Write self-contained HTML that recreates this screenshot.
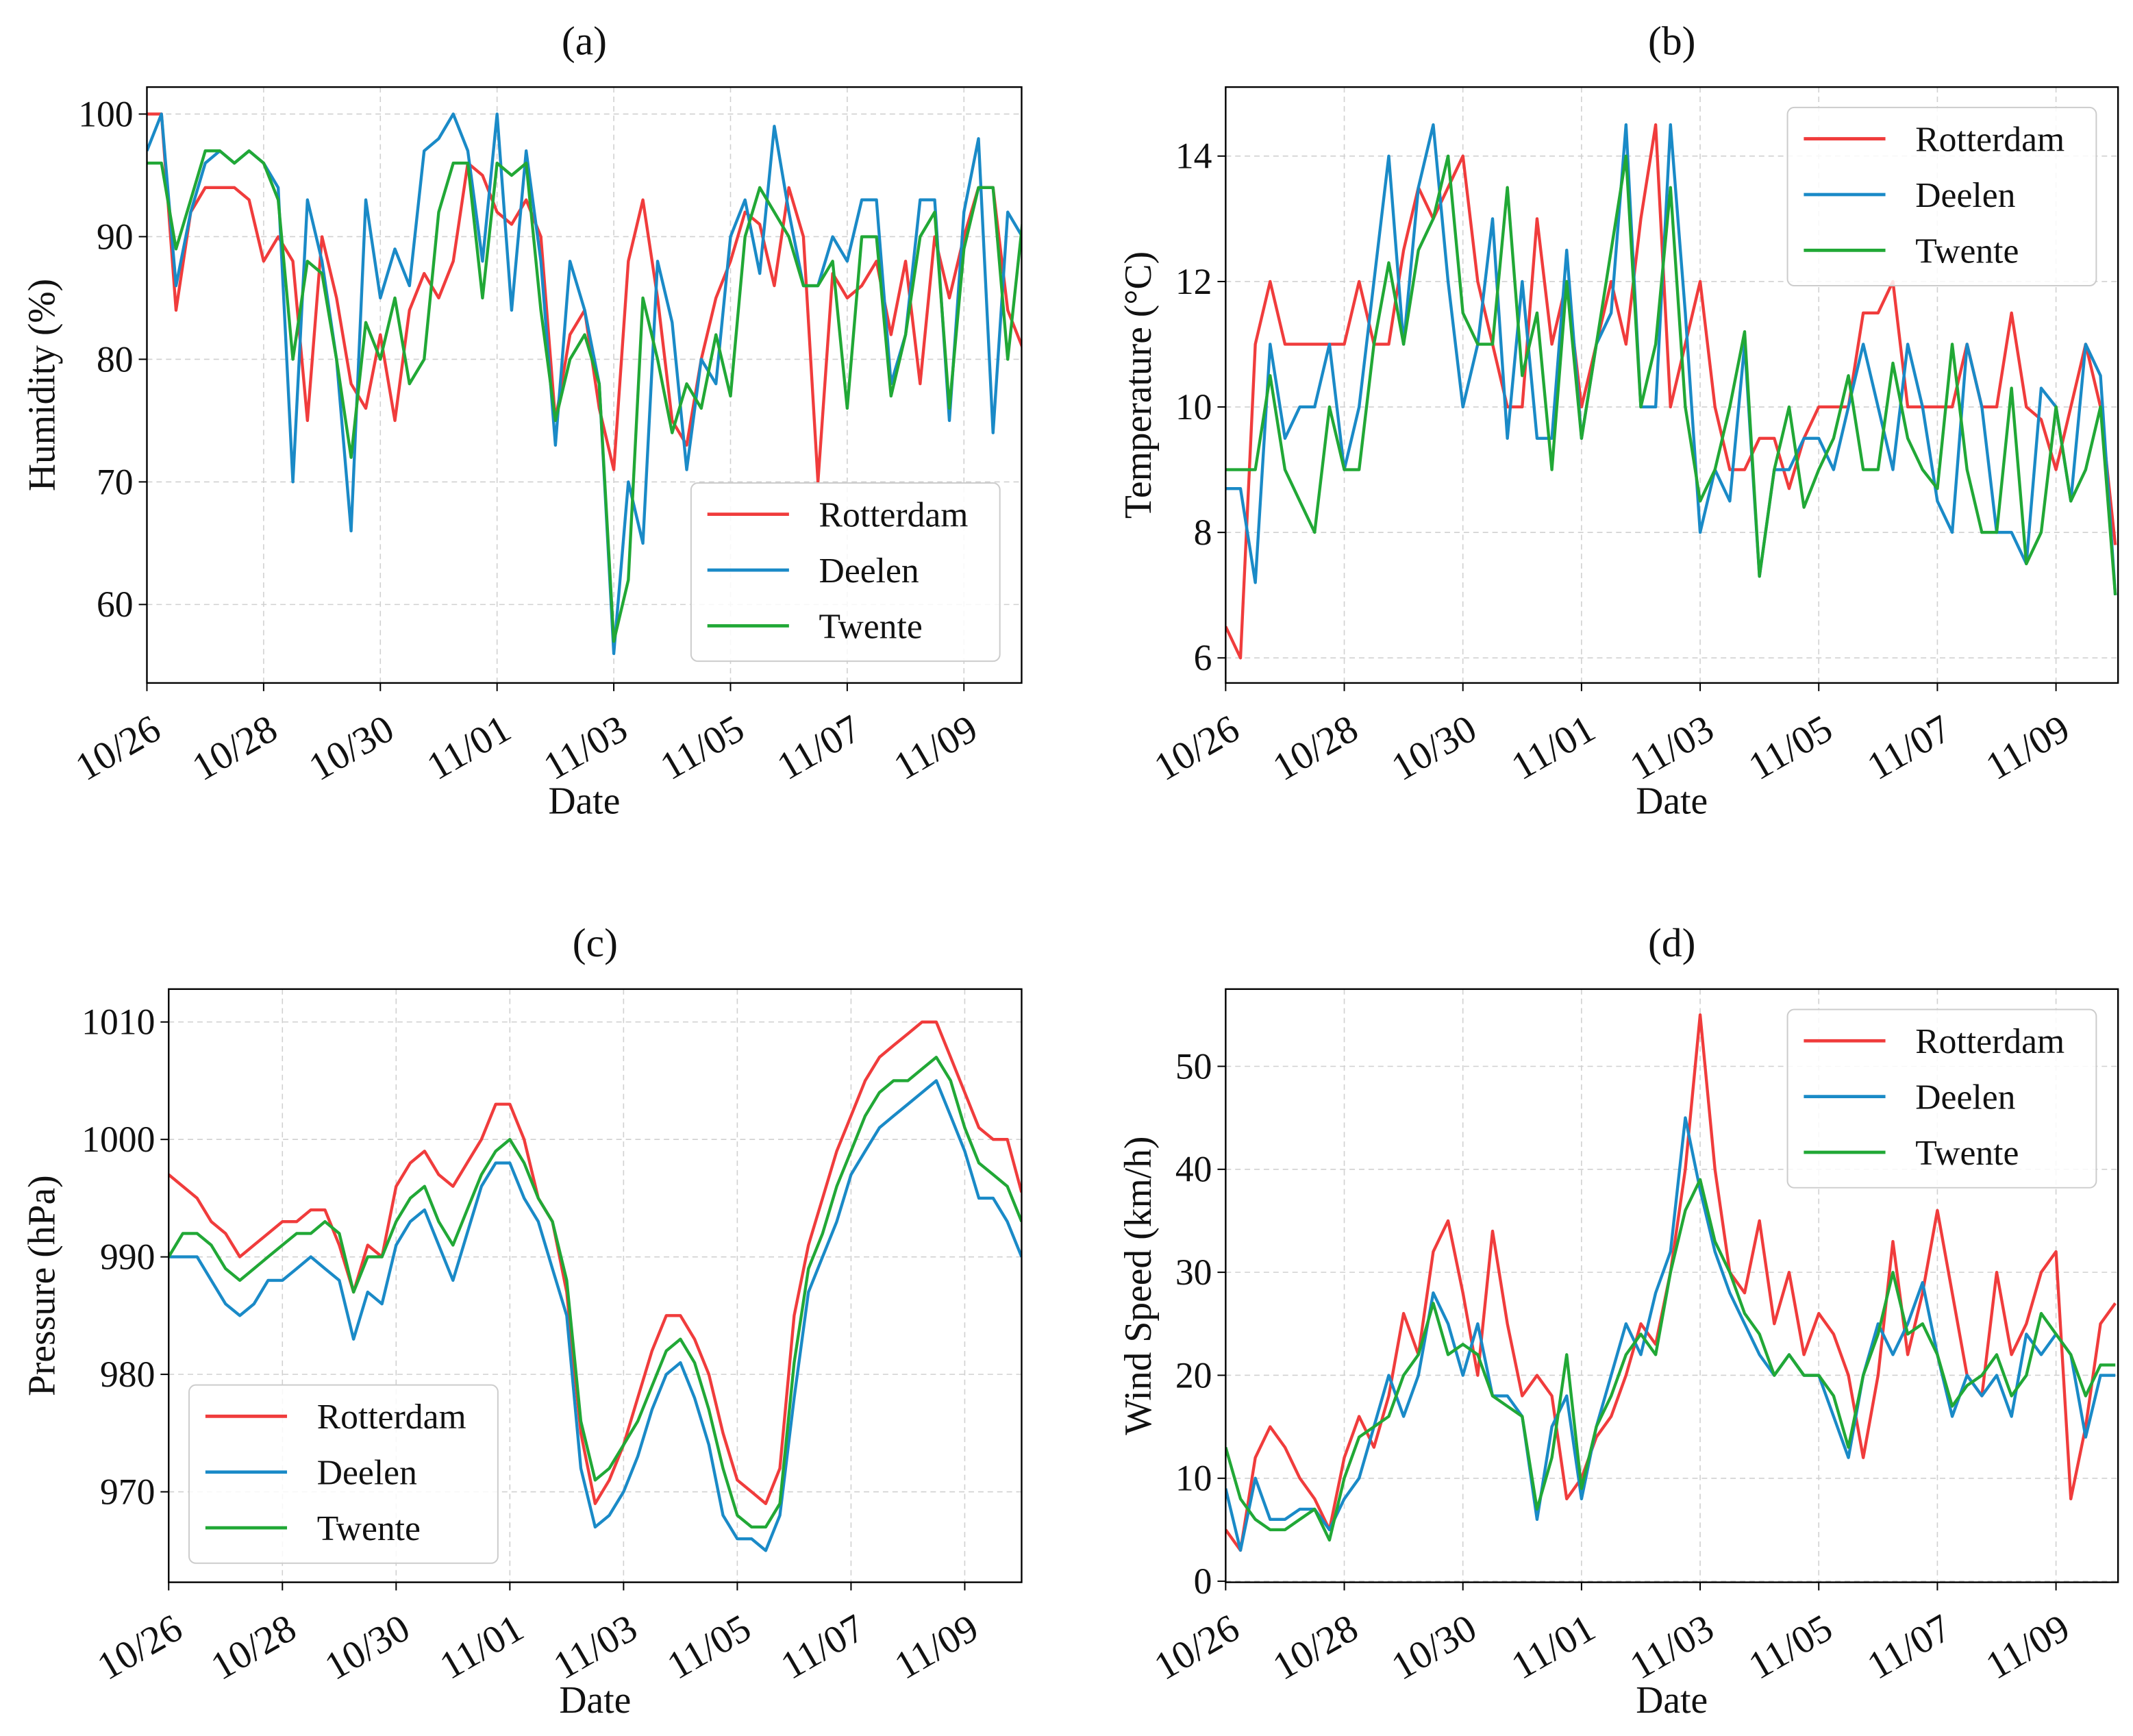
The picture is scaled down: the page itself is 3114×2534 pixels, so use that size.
<!DOCTYPE html>
<html><head><meta charset="utf-8">
<style>
html,body{margin:0;padding:0;background:#fff;}
svg{display:block;}
text{font-family:"Liberation Serif",serif;fill:#111;}
</style></head>
<body>
<svg id="chart" width="3114" height="2534" viewBox="0 0 1568 1276" preserveAspectRatio="none" xmlns="http://www.w3.org/2000/svg"></svg>
<script>
const stations = ["Rotterdam","Deelen","Twente"];
const dateTicks = ["10/26","10/28","10/30","11/01","11/03","11/05","11/07","11/09"];
const humidityTicks = [60,70,80,90,100];
const tempTicks = [6,8,10,12,14];
const pressureTicks = [970,980,990,1000,1010];
const windTicks = [0,10,20,30,40,50];
// values every 6 hours from 10/26 00:00
const humRotterdam = [100,100,84,92, 94,94,94,93, 88,90,88,75, 90,85,78,76, 82,75,84,87, 85,88,96,95, 92,91,93,90, 75,82,84,76, 71,88,93,85, 75,73,80,85, 88,92,91,86, 94,90,70,87, 85,86,88,82, 88,78,90,85, 90,94,94,84, 81];
const humDeelen = [97,100,86,92, 96,97,96,97, 96,94,70,93, 88,80,66,93, 85,89,86,97, 98,100,97,88, 100,84,97,88, 73,88,84,78, 56,70,65,88, 83,71,80,78, 90,93,87,99, 92,86,86,90, 88,93,93,78, 82,93,93,75, 92,98,74,92, 90];
const humTwente = [96,96,89,93, 97,97,96,97, 96,93,80,88, 87,80,72,83, 80,85,78,80, 92,96,96,85, 96,95,96,84, 75,80,82,78, 57,62,85,80, 74,78,76,82, 77,90,94,92, 90,86,86,88, 76,90,90,77, 82,90,92,76, 89,94,94,80, 91];
const tempRotterdam = [6.5,6,11,12, 11,11,11,11, 11,12,11,11, 12.5,13.5,13,13.5, 14,12,11,10, 10,13,11,12, 10,11,12,11, 13,14.5,10,11, 12,10,9,9, 9.5,9.5,8.7,9.5, 10,10,10,11.5, 11.5,12,10,10, 10,10,11,10, 10,11.5,10,9.8, 9,10,11,10, 7.8];
const tempDeelen = [8.7,8.7,7.2,11, 9.5,10,10,11, 9,10,12,14, 11,13.5,14.5,12, 10,11,13,9.5, 12,9.5,9.5,12.5, 9.5,11,11.5,14.5, 10,10,14.5,11.5, 8,9,8.5,11, 7.3,9,9,9.5, 9.5,9,10,11, 10,9,11,10, 8.5,8,11,10, 8,8,7.5,10.3, 10,8.5,11,10.5, 7];
const tempTwente = [9,9,9,10.5, 9,8.5,8,10, 9,9,11,12.3, 11,12.5,13,14, 11.5,11,11,13.5, 10.5,11.5,9,12, 9.5,11,12.5,14, 10,11,13.5,10, 8.5,9,10,11.2, 7.3,9,10,8.4, 9,9.5,10.5,9, 9,10.7,9.5,9, 8.7,11,9,8, 8,10.3,7.5,8, 10,8.5,9,10, 7];
const presRotterdam = [997,996,995,993, 992,990,991,992, 993,993,994,994, 991,987,991,990, 996,998,999,997, 996,998,1000,1003, 1003,1000,995,993, 987,975,969,971, 974,978,982,985, 985,983,980,975, 971,970,969,972, 985,991,995,999, 1002,1005,1007,1008, 1009,1010,1010,1007, 1004,1001,1000,1000, 995.5];
const presDeelen = [990,990,990,988, 986,985,986,988, 988,989,990,989, 988,983,987,986, 991,993,994,991, 988,992,996,998, 998,995,993,989, 985,972,967,968, 970,973,977,980, 981,978,974,968, 966,966,965,968, 978,987,990,993, 997,999,1001,1002, 1003,1004,1005,1002, 999,995,995,993, 990];
const presTwente = [990,992,992,991, 989,988,989,990, 991,992,992,993, 992,987,990,990, 993,995,996,993, 991,994,997,999, 1000,998,995,993, 988,976,971,972, 974,976,979,982, 983,981,977,972, 968,967,967,969, 981,989,992,996, 999,1002,1004,1005, 1005,1006,1007,1005, 1001,998,997,996, 993];
const windRotterdam = [5,3,12,15, 13,10,8,5, 12,16,13,18, 26,22,32,35, 28,20,34,25, 18,20,18,8, 10,14,16,20, 25,23,30,40, 55,40,30,28, 35,25,30,22, 26,24,20,12, 20,33,22,28, 36,28,20,18, 30,22,25,30, 32,8,15,25, 27];
const windDeelen = [9,3,10,6, 6,7,7,5, 8,10,15,20, 16,20,28,25, 20,25,18,18, 16,6,15,18, 8,15,20,25, 22,28,32,45, 38,32,28,25, 22,20,22,20, 20,16,12,20, 25,22,25,29, 22,16,20,18, 20,16,24,22, 24,22,14,20, 20];
const windTwente = [13,8,6,5, 5,6,7,4, 10,14,15,16, 20,22,27,22, 23,22,18,17, 16,7,12,22, 9,15,18,22, 24,22,30,36, 39,33,30,26, 24,20,22,20, 20,18,13,20, 24,30,24,25, 22,17,19,20, 22,18,20,26, 24,22,18,21, 21];

const NS="http://www.w3.org/2000/svg";
const svg=document.getElementById('chart');
const colors=["#f03c3c","#1a8ac7","#21a836"];
function mk(tag,attrs,parent){const e=document.createElementNS(NS,tag);for(const k in attrs)e.setAttribute(k,attrs[k]);(parent||svg).appendChild(e);return e;}

function panel(cfg){
  const g=mk('g',{});
  
  
  const {x0,x1,y0,y1,ymin,ymax,dayPx,tickX0}=cfg;
  const xs=d=>tickX0+d*dayPx;
  const ys=v=>y1-(v-ymin)/(ymax-ymin)*(y1-y0);
  dateTicks.forEach((t,i)=>{const x=xs(i*2);
    const l=mk('line',{x1:x,x2:x,y1:y0,y2:y1,stroke:"#d0d0d0","stroke-width":0.8,"stroke-dasharray":"4,3"},g);
    
    
    mk('line',{x1:x,x2:x,y1:y1,y2:y1+6,stroke:"#000","stroke-width":1},g);
    const ax=x+2, ay=y1+22;
    const tx=mk('text',{x:ax,y:ay,"font-size":29,"text-anchor":"end",transform:`rotate(-30 ${ax} ${ay})`,"dominant-baseline":"hanging"},g);
    tx.textContent=t;
    
    
  });
  cfg.yTicks.forEach(v=>{const y=ys(v);
    const l=mk('line',{x1:x0,x2:x1,y1:y,y2:y,stroke:"#d0d0d0","stroke-width":0.8,"stroke-dasharray":"4,3"},g);
    
    
    mk('line',{x1:x0-6,x2:x0,y1:y,y2:y,stroke:"#000","stroke-width":1},g);
    const tx=mk('text',{x:x0-10,y:y+9,"font-size":27,"text-anchor":"end"},g);
    tx.textContent=v;
    
    
  });
  const clip='clip-'+cfg.name;
  const cp=mk('clipPath',{id:clip},g);mk('rect',{x:x0,y:y0,width:x1-x0,height:y1-y0},cp);
  cfg.series.forEach((arr,si)=>{
    const pts=arr.map((v,i)=>`${xs(i/4).toFixed(1)},${ys(v).toFixed(1)}`).join(' ');
    const pl=mk('polyline',{points:pts,fill:"none",stroke:colors[si],"stroke-width":2.2,"stroke-linejoin":"round","clip-path":`url(#${clip})`},g);
    
    
  });
  const fr=mk('rect',{x:x0,y:y0,width:x1-x0,height:y1-y0,fill:"none",stroke:"#000","stroke-width":1.2},g);
  
  
  const ti=mk('text',{x:(x0+x1)/2,y:y0-24,"font-size":30,"text-anchor":"middle"},g);ti.textContent=cfg.title;
  
  
  const xl=mk('text',{x:(x0+x1)/2,y:y1+96,"font-size":28,"text-anchor":"middle"},g);xl.textContent="Date";
  
  
  const yx=cfg.ylabX,yy=(y0+y1)/2;
  const yl=mk('text',{x:yx,y:yy,"font-size":28,"text-anchor":"middle",transform:`rotate(-90 ${yx} ${yy})`},g);yl.textContent=cfg.ylabel;
  
  
  const L=cfg.legend;
  const lg=mk('g',{},g);
  
  
  mk('rect',{x:L.x,y:L.y,width:227,height:131,rx:5,fill:"#fff","fill-opacity":0.85,stroke:"#ccc","stroke-width":1},lg);
  stations.forEach((s,i)=>{const yy2=L.y+23+i*41;
    const e=mk('g',{},lg);
    
    
    mk('line',{x1:L.x+12,x2:L.x+72,y1:yy2,y2:yy2,stroke:colors[i],"stroke-width":2.4},e);
    const t=mk('text',{x:L.x+94,y:yy2+9,"font-size":26},e);t.textContent=s;
  });
}
panel({name:'humidity-panel',title:'(a)',x0:108,x1:751,y0:64,y1:502,ymin:53.6,ymax:102.2,dayPx:42.9,tickX0:108,yTicks:humidityTicks,series:[humRotterdam,humDeelen,humTwente],ylabel:'Humidity (%)',ylabX:40,legend:{x:508,y:355}});
panel({name:'temperature-panel',title:'(b)',x0:901,x1:1557,y0:64,y1:502,ymin:5.6,ymax:15.1,dayPx:43.6,tickX0:901,yTicks:tempTicks,series:[tempRotterdam,tempDeelen,tempTwente],ylabel:'Temperature (°C)',ylabX:846,legend:{x:1314,y:79}});
panel({name:'pressure-panel',title:'(c)',x0:124,x1:751,y0:727,y1:1163,ymin:962.3,ymax:1012.8,dayPx:41.8,tickX0:124,yTicks:pressureTicks,series:[presRotterdam,presDeelen,presTwente],ylabel:'Pressure (hPa)',ylabX:40,legend:{x:139,y:1018}});
panel({name:'wind-panel',title:'(d)',x0:901,x1:1557,y0:727,y1:1163,ymin:-0.1,ymax:57.5,dayPx:43.6,tickX0:901,yTicks:windTicks,series:[windRotterdam,windDeelen,windTwente],ylabel:'Wind Speed (km/h)',ylabX:846,legend:{x:1314,y:742}});
</script>
</body></html>
